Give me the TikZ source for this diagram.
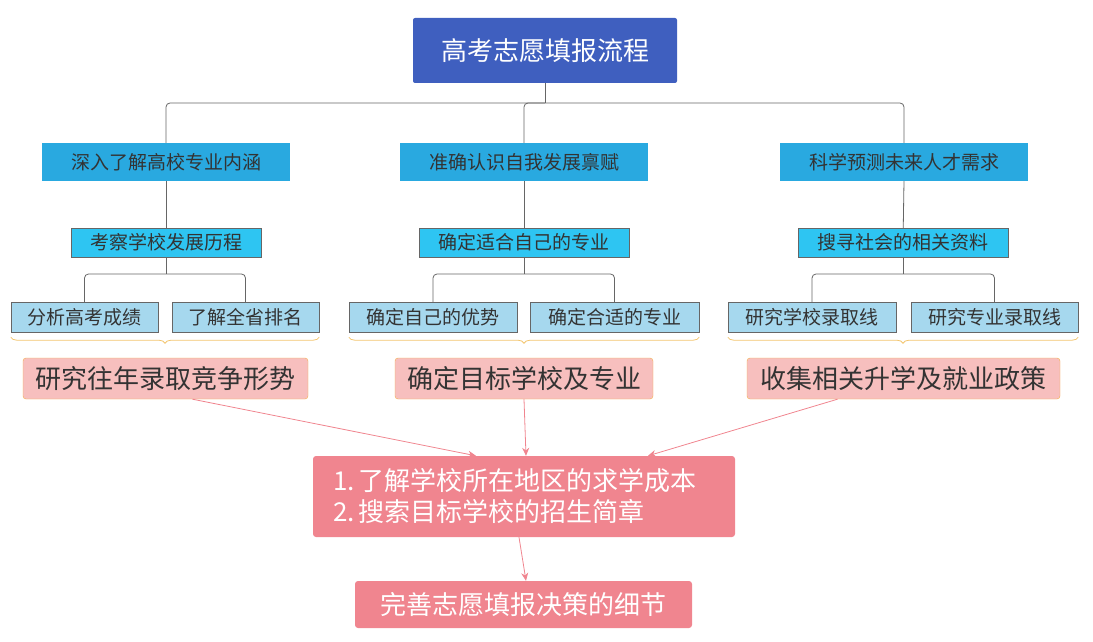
\documentclass[tikz,border=0pt]{standalone}
\usepackage{fontspec}
\setmainfont{Noto Sans CJK SC}
\usetikzlibrary{
	arrows.meta,
	decorations.pathreplacing,
}
\definecolor{rootblue}{HTML}{3F5FBF}
\definecolor{topicblue}{HTML}{29A9E0}
\definecolor{subcyan}{HTML}{2EC5F2}
\definecolor{leafblue}{HTML}{A6D8EE}
\definecolor{sumpink}{HTML}{F7BFBE}
\definecolor{sumedge}{HTML}{F4B04A}
\definecolor{mainpink}{HTML}{F0858F}
\definecolor{bracegold}{HTML}{F2C56E}
\definecolor{treegray}{HTML}{666666}
\definecolor{textgray}{HTML}{333333}

\begin{document}
\begin{tikzpicture}[x=1pt,y=-1pt]
		\tikzstyle{every node}+=[inner sep=0pt]
		\tikzstyle{rootbox}=[fill=rootblue, rounded corners=2pt, text=white, font=\fontsize{26}{31}\selectfont, minimum width=264pt, minimum height=65pt]
		\tikzstyle{topicbox}=[fill=topicblue, text=textgray, font=\fontsize{19}{23}\selectfont, minimum width=248pt, minimum height=38pt]
		\tikzstyle{subbox}=[fill=subcyan, draw=treegray, text=textgray, font=\fontsize{19}{23}\selectfont, minimum height=29pt]
		\tikzstyle{leafbox}=[fill=leafblue, draw=treegray, text=textgray, font=\fontsize{19}{23}\selectfont, minimum height=30pt]
		\tikzstyle{sumbox}=[fill=sumpink, draw=sumedge, rounded corners=3pt, text=textgray, font=\fontsize{26}{31}\selectfont, minimum height=41pt]
		\tikzstyle{mainbox}=[fill=mainpink, rounded corners=3pt, text=white, font=\fontsize{26}{31}\selectfont]
		\tikzstyle{tree}=[treegray, line width=0.8pt, rounded corners=4pt]
		\tikzstyle{flow}=[mainpink, line width=0.8pt, -{Stealth[length=8pt,width=7pt]}]
		\tikzstyle{summary}=[bracegold, line width=0.8pt, decorate, decoration={brace, mirror, amplitude=6pt}]
		\useasboundingbox (0,0) rectangle (1093,642);
		% root and first level
		\node [rootbox] (root) at (545,50.5) {高考志愿填报流程};
		\node [topicbox] (tA) at (166,162) {深入了解高校专业内涵};
		\node [topicbox] (tB) at (524,162) {准确认识自我发展禀赋};
		\node [topicbox] (tC) at (904,162) {科学预测未来人才需求};
		\coordinate (bus) at (545,103);
		\draw [tree] (root) -- (bus);
		\draw [tree] (tA.north) |- (bus) -| (tC.north);
		\draw [tree] (tB.north) |- (bus);
		% second level
		\node [subbox, minimum width=190pt] (sA) at (166,242.5) {考察学校发展历程};
		\node [subbox, minimum width=210pt] (sB) at (524,242.5) {确定适合自己的专业};
		\node [subbox, minimum width=210pt] (sC) at (903,242.5) {搜寻社会的相关资料};
		\draw [tree] (tA) -- (sA);
		\draw [tree] (tB) -- (sB);
		\draw [tree] (tC.south) -- (sC);
		% leaves
		\node [leafbox, minimum width=147pt] (lA1) at (84.5,317) {分析高考成绩};
		\node [leafbox, minimum width=147pt] (lA2) at (245.5,317) {了解全省排名};
		\node [leafbox, minimum width=168pt] (lB1) at (433,317) {确定自己的优势};
		\node [leafbox, minimum width=169pt] (lB2) at (614.5,317) {确定合适的专业};
		\node [leafbox, minimum width=168pt] (lC1) at (812,317) {研究学校录取线};
		\node [leafbox, minimum width=167pt] (lC2) at (994.5,317) {研究专业录取线};
		\coordinate (jA) at (166,274);
		\coordinate (jB) at (524,274);
		\coordinate (jC) at (903,274);
		\draw [tree] (sA) -- (jA);
		\draw [tree] (lA1.north) |- (jA) -| (lA2.north);
		\draw [tree] (sB) -- (jB);
		\draw [tree] (lB1.north) |- (jB) -| (lB2.north);
		\draw [tree] (sC) -- (jC);
		\draw [tree] (lC1.north) |- (jC) -| (lC2.north);
		% braces and summaries
		\draw [summary] ([yshift=-5pt]lA1.south west) -- ([yshift=-5pt]lA2.south east);
		\draw [summary] ([yshift=-5pt]lB1.south west) -- ([yshift=-5pt]lB2.south east);
		\draw [summary] ([yshift=-5pt]lC1.south west) -- ([yshift=-5pt]lC2.south east);
		\node [sumbox, minimum width=285pt] (mA) at (165.5,378.5) {研究往年录取竞争形势};
		\node [sumbox, minimum width=258pt] (mB) at (524,378.5) {确定目标学校及专业};
		\node [sumbox, minimum width=313pt] (mC) at (903.5,378.5) {收集相关升学及就业政策};
		% main steps
		\node [mainbox, minimum width=422pt, minimum height=81pt, text width=382pt, align=left] (plan) at (524,496.5) {1.\,了解学校所在地区的求学成本\\2.\,搜索目标学校的招生简章};
		\node [mainbox, minimum width=337pt, minimum height=47pt] (final) at (523.5,604.5) {完善志愿填报决策的细节};
		\draw [flow] ([xshift=27pt]mA.south) -- ([xshift=-48pt]plan.north);
		\draw [flow] (mB.south) -- ([xshift=2pt]plan.north);
		\draw [flow] ([xshift=-66pt]mC.south) -- ([xshift=124pt]plan.north);
		\draw [flow] ([xshift=-5pt]plan.south) -- ([xshift=2.5pt]final.north);
		\end{tikzpicture}
\end{document}
